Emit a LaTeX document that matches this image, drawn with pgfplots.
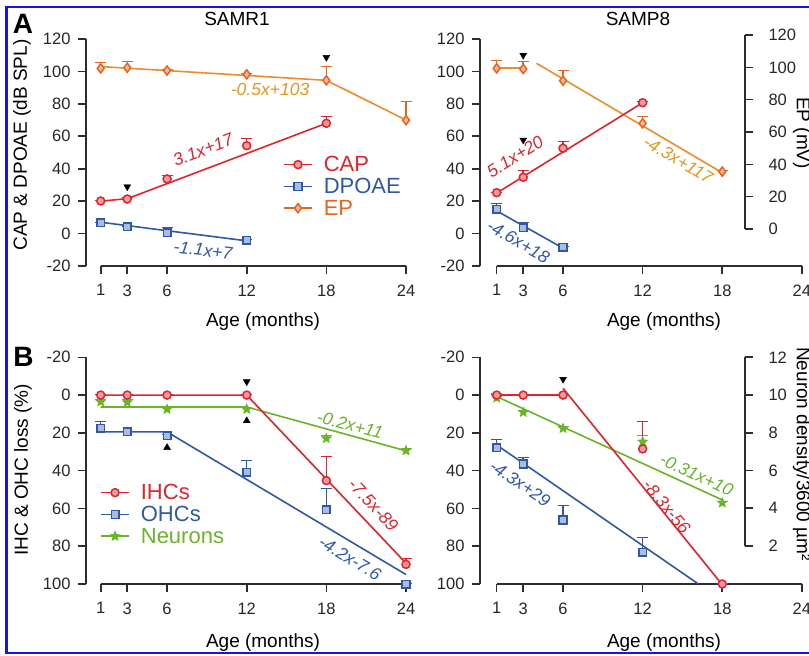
\documentclass[border=0pt]{standalone}
\usepackage{fontspec}
\setmainfont{Liberation Sans}
\usepackage{pgfplots}
\pgfplotsset{compat=1.18}
\definecolor{cred}{RGB}{224,36,44}
\definecolor{cblue}{RGB}{48,88,170}
\definecolor{corange}{RGB}{238,140,40}
\definecolor{cormark}{RGB}{232,100,30}
\definecolor{cfitor}{RGB}{232,150,30}
\definecolor{cgreen}{RGB}{105,180,40}
\definecolor{caxis}{RGB}{45,45,45}
\definecolor{cframe}{RGB}{20,20,230}
\newcommand\tickfont{\fontsize{16.5}{19}\selectfont}
\newcommand\labfont{\fontsize{19}{22}\selectfont}
\newcommand\legfont{\fontsize{22}{24}\selectfont}
\newcommand\fitfont{\fontsize{17.5}{20}\selectfont\itshape}
\pgfdeclareplotmark{fstar}{%
  \pgfpathmoveto{\pgfpointpolar{90}{\pgfplotmarksize}}%
  \pgfpathlineto{\pgfpointpolar{126}{0.45*\pgfplotmarksize}}%
  \pgfpathlineto{\pgfpointpolar{162}{\pgfplotmarksize}}%
  \pgfpathlineto{\pgfpointpolar{198}{0.45*\pgfplotmarksize}}%
  \pgfpathlineto{\pgfpointpolar{234}{\pgfplotmarksize}}%
  \pgfpathlineto{\pgfpointpolar{270}{0.45*\pgfplotmarksize}}%
  \pgfpathlineto{\pgfpointpolar{306}{\pgfplotmarksize}}%
  \pgfpathlineto{\pgfpointpolar{342}{0.45*\pgfplotmarksize}}%
  \pgfpathlineto{\pgfpointpolar{18}{\pgfplotmarksize}}%
  \pgfpathlineto{\pgfpointpolar{54}{0.45*\pgfplotmarksize}}%
  \pgfpathclose
  \pgfusepathqfillstroke}
\pgfplotsset{
  base/.style={scale only axis, clip=false,
    axis line style={caxis, line width=1.6pt},
    every tick/.style={caxis, line width=1.6pt},
    major tick length=8pt, tick align=outside,
    ticklabel style={font=\tickfont, text=black!85},
    xticklabel style={yshift=-7pt},
    xtick={1,3,6,12,18,24}, xticklabels={1,3,6,12,18,24},
    legend cell align=left,
    legend image code/.code={\draw[mark repeat=2,mark phase=2,##1] plot coordinates {(0pt,0pt) (14pt,0pt) (28pt,0pt)};},
    legend style={draw=none, fill=none, inner sep=0pt, row sep=3pt, font=\legfont,
      nodes={inner sep=1pt}, /tikz/every odd column/.append style={column sep=10pt}},
  },
  lefty/.style={yticklabel style={xshift=-4pt}},
  righty/.style={yticklabel style={xshift=12pt}},
  fitline/.style={line width=1.6pt, forget plot},
  errs/.style={only marks, forget plot, error bars/y dir=#1, error bars/y explicit, error bars/error mark=-},
  redm/.style={cred, mark=*, mark size=4pt, mark options={fill=cred!45!white, draw=cred, line width=1.5pt},
    error bars/error bar style={cred, line width=1.5pt, mark size=5.5pt}},
  bluem/.style={cblue, mark=square*, mark size=3.8pt, mark options={fill=cblue!40!white, draw=cblue, line width=1.5pt},
    error bars/error bar style={cblue, line width=1.5pt, mark size=5.5pt}},
  orm/.style={cormark, mark=diamond*, mark size=4.6pt, mark options={fill=cormark!45!white, draw=cormark, line width=1.5pt},
    error bars/error bar style={cormark, line width=1.5pt, mark size=5.5pt}},
  grm/.style={cgreen, mark=fstar, mark size=4.6pt, mark options={fill=cgreen, draw=cgreen, line width=1pt},
    error bars/error bar style={cgreen, line width=1.5pt, mark size=5.5pt}},
  tridown/.style={only marks, forget plot, black, mark=triangle*, mark size=4pt, mark options={rotate=180}},
  triup/.style={only marks, forget plot, black, mark=triangle*, mark size=4pt},
}
\begin{document}
\begin{tikzpicture}[x=1pt,y=1pt]
\useasboundingbox (0,0) rectangle (809,656);
% ---------------- A left: SAMR1
\begin{axis}[base, lefty, at={(86pt,390pt)}, anchor=south west, width=320pt, height=227pt,
  xmin=-0.108, xmax=24, ymin=-20, ymax=120,
  axis x line*=bottom, axis y line*=left, x axis line style={draw=none},
  ytick={-20,0,20,40,60,80,100,120}, yticklabels={-20,0,20,40,60,80,100,120},
  legend style={at={(0.6156,0.489)}, anchor=north west}]
\draw[caxis, line width=1.6pt] (axis cs:1,-20) -- (axis cs:24,-20);
\addplot[fitline, corange] coordinates {(1,103) (18,94.5) (24,70)};
\addplot[fitline, cred] coordinates {(1,20) (3,21.5) (18,68)};
\addplot[fitline, cblue] coordinates {(1,7) (12,-4.5)};
\addplot[errs=plus, orm] coordinates {(1,101.9) +- (0,3.7) (3,102.3) +- (0,4.1) (6,100.5) +- (0,0.8) (12,98.2) +- (0,0.8) (18,94.5) +- (0,9) (24,69.9) +- (0,12)};
\addplot[errs=plus, redm] coordinates {(1,20.1) +- (0,0.5) (3,21.3) +- (0,1) (6,33.7) +- (0,2) (12,54.2) +- (0,4.6) (18,68) +- (0,4.5)};
\addplot[errs=plus, bluem] coordinates {(1,6.7) +- (0,0.5) (3,4.1) +- (0,0.5) (6,0.4) +- (0,3.5) (12,-4) +- (0,0.5)};
\addplot[tridown] coordinates {(18,108.7) (3,28.9)};
\node[font=\fitfont, text=cfitor] at (axis cs:13.76,88.6) {-0.5x+103};
\node[font=\fitfont, text=cred, rotate=21] at (axis cs:8.71,51.6) {3.1x+17};
\node[font=\fitfont, text=cblue, rotate=-7] at (axis cs:8.71,-10.1) {-1.1x+7};
\node[font=\labfont] at (axis cs:11.27,132.3) {SAMR1};
\node[font=\labfont] at (axis cs:13.23,-54.5) {Age (months)};
\node[font=\labfont, rotate=90] at (axis cs:-4.93,54.6) {CAP \& DPOAE (dB SPL)};
\node[font=\fontsize{28}{30}\selectfont\bfseries] at (axis cs:-4.86,129.3) {A};
\addlegendimage{cred, line width=1.6pt, mark=*, mark size=4pt, mark options={fill=cred!45!white, draw=cred, line width=1.5pt}}
\addlegendentry{\textcolor{cred}{CAP}}
\addlegendimage{cblue, line width=1.6pt, mark=square*, mark size=3.8pt, mark options={fill=cblue!40!white, draw=cblue, line width=1.5pt}}
\addlegendentry{\textcolor{cblue}{DPOAE}}
\addlegendimage{cormark, line width=1.6pt, mark=diamond*, mark size=4.6pt, mark options={fill=cormark!45!white, draw=cormark, line width=1.5pt}}
\addlegendentry{\textcolor{cormark}{EP}}
\end{axis}
% ---------------- A right: SAMP8
\begin{axis}[base, lefty, at={(480pt,390pt)}, anchor=south west, width=321.9pt, height=227pt,
  xmin=-0.258, xmax=24, ymin=-20, ymax=120,
  axis x line*=bottom, axis y line*=left, x axis line style={draw=none},
  ytick={-20,0,20,40,60,80,100,120}, yticklabels={-20,0,20,40,60,80,100,120}]
\draw[caxis, line width=1.6pt] (axis cs:1,-20) -- (axis cs:24,-20);
\addplot[fitline, corange] coordinates {(1,102) (3,102)};
\addplot[fitline, corange] coordinates {(4,105) (18,37.5)};
\addplot[fitline, cred] coordinates {(1,25) (12,80.7)};
\addplot[fitline, cblue] coordinates {(1,14) (6,-9)};
\addplot[errs=plus, orm] coordinates {(1,101.9) +- (0,5) (3,101.5) +- (0,4.5) (6,94.3) +- (0,6.6) (12,68) +- (0,4.5) (18,38.2) +- (0,1)};
\addplot[errs=plus, redm] coordinates {(1,25.2) +- (0,0.5) (3,34.7) +- (0,4.5) (6,52.6) +- (0,4.1) (12,80.7) +- (0,1)};
\addplot[errs=plus, bluem] coordinates {(1,15) +- (0,3.7) (3,3.6) +- (0,3.7) (6,-8.5) +- (0,1)};
\addplot[tridown] coordinates {(3,110) (3,57.7)};
\node[font=\fitfont, text=cred, rotate=32] at (axis cs:2.39,47.4) {5.1x+20};
\node[font=\fitfont, text=cblue, rotate=-30] at (axis cs:2.63,-5.0) {-4.6x+18};
\node[font=\fitfont, text=cfitor, rotate=-31] at (axis cs:14.69,45.4) {-4.3x+117};
\node[font=\labfont] at (axis cs:11.65,132.3) {SAMP8};
\node[font=\labfont] at (axis cs:13.61,-54.5) {Age (months)};
\node[font=\labfont, rotate=-90, anchor=base] at (axis cs:23.63,62) {EP (mV)};
\end{axis}
\begin{axis}[base, righty, at={(480pt,427pt)}, anchor=south west, width=265pt, height=194pt,
  xmin=0, xmax=1, ymin=0, ymax=120, hide x axis, axis y line*=right,
  ytick={0,20,40,60,80,100,120}, yticklabels={0,20,40,60,80,100,120}]
\end{axis}
% ---------------- B left
\begin{axis}[base, lefty, at={(86pt,72pt)}, anchor=south west, width=320pt, height=226.7pt,
  xmin=-0.108, xmax=24, ymin=-20, ymax=100, y dir=reverse,
  axis x line*=bottom, axis y line*=left, x axis line style={draw=none},
  ytick={-20,0,20,40,60,80,100}, yticklabels={-20,0,20,40,60,80,100},
  legend style={at={(0.044,0.4455)}, anchor=north west}]
\draw[caxis, line width=1.6pt] (axis cs:1,100) -- (axis cs:24,100);
\addplot[fitline, cgreen] coordinates {(1,6.3) (12,6.3) (24,29.5)};
\addplot[fitline, cblue] coordinates {(1,19.5) (6,19.5) (24,95)};
\addplot[fitline, cred] coordinates {(1,0) (12,0) (24,89)};
\addplot[errs=minus, grm] coordinates {(1,3.5) +- (0,1.5) (3,3.8) +- (0,1.5) (6,7.5) +- (0,1) (12,7.5) +- (0,1) (18,22.9) +- (0,1.5) (24,29.4) +- (0,1.5)};
\addplot[errs=minus, bluem] coordinates {(1,17.6) +- (0,3.9) (3,19.4) +- (0,0.5) (6,21.5) +- (0,1) (12,40.9) +- (0,6.2) (18,60.8) +- (0,11.4) (24,100.2) +- (0,0.5)};
\addplot[errs=minus, redm] coordinates {(1,0) +- (0,0.3) (3,0) +- (0,0.3) (6,0) +- (0,0.3) (12,0) +- (0,0.3) (18,45.3) +- (0,12.7) (24,89.6) +- (0,3)};
\addplot[tridown] coordinates {(12,-7.1)};
\addplot[triup] coordinates {(12,13.6) (6,27.8)};
\node[font=\fitfont, text=cgreen, rotate=-15] at (axis cs:19.78,15.8) {-0.2x+11};
\node[font=\fitfont, text=cred, rotate=-47] at (axis cs:21.54,58.2) {-7.5x-89};
\node[font=\fitfont, text=cblue, rotate=-31] at (axis cs:19.78,86.4) {-4.2x-7.6};
\node[font=\labfont] at (axis cs:13.23,131) {Age (months)};
\node[font=\labfont, rotate=90] at (axis cs:-4.86,39.6) {IHC \& OHC loss (\%)};
\node[font=\fontsize{28}{30}\selectfont\bfseries] at (axis cs:-4.82,-20.2) {B};
\addlegendimage{cred, line width=1.6pt, mark=*, mark size=4pt, mark options={fill=cred!45!white, draw=cred, line width=1.5pt}}
\addlegendentry{\textcolor{cred}{IHCs}}
\addlegendimage{cblue, line width=1.6pt, mark=square*, mark size=3.8pt, mark options={fill=cblue!40!white, draw=cblue, line width=1.5pt}}
\addlegendentry{\textcolor{cblue}{OHCs}}
\addlegendimage{cgreen, line width=1.6pt, mark=fstar, mark size=4.6pt, mark options={fill=cgreen, draw=cgreen, line width=1pt}}
\addlegendentry{\textcolor{cgreen}{Neurons}}
\end{axis}
% ---------------- B right
\begin{axis}[base, lefty, at={(480pt,72pt)}, anchor=south west, width=321.9pt, height=226.7pt,
  xmin=-0.258, xmax=24, ymin=-20, ymax=100, y dir=reverse,
  axis x line*=bottom, axis y line*=left, x axis line style={draw=none},
  ytick={-20,0,20,40,60,80,100}, yticklabels={-20,0,20,40,60,80,100}]
\draw[caxis, line width=1.6pt] (axis cs:1,100) -- (axis cs:24,100);
\addplot[fitline, cgreen] coordinates {(1,0.8) (18,55.5)};
\addplot[fitline, cblue] coordinates {(1,26.4) (16.2,100)};
\addplot[fitline, cred] coordinates {(1,0) (6,0)};
\addplot[fitline, cred] coordinates {(6,-3.6) (18,100.4)};
\addplot[errs=minus, grm] coordinates {(1,1.5) +- (0,2.5) (3,9.1) +- (0,1) (6,17.6) +- (0,1) (12,24.7) +- (0,3.7) (18,57) +- (0,1)};
\addplot[errs=minus, bluem] coordinates {(1,27.8) +- (0,4.4) (3,36.5) +- (0,3.6) (6,66.1) +- (0,7.9) (12,83.2) +- (0,8.2)};
\addplot[errs=minus, redm] coordinates {(1,0) +- (0,0.3) (3,0) +- (0,0.3) (6,0) +- (0,0.3) (12,28.5) +- (0,14.8) (18,100) +- (0,0.3)};
\addplot[tridown] coordinates {(6,-8.4)};
\node[font=\fitfont, text=cred, rotate=-51] at (axis cs:13.81,59.1) {-8.3x-56};
\node[font=\fitfont, text=cblue, rotate=-34] at (axis cs:2.76,46.7) {-4.3x+29};
\node[font=\fitfont, text=cgreen, rotate=-25] at (axis cs:16.07,42.3) {-0.31x+10};
\node[font=\labfont] at (axis cs:13.61,131) {Age (months)};
\node[font=\labfont, rotate=-90, anchor=base] at (axis cs:23.63,31.2) {Neuron density/3600 µm²};
\end{axis}
\begin{axis}[base, righty, at={(480pt,110pt)}, anchor=south west, width=265pt, height=188.7pt,
  xmin=0, xmax=1, ymin=2, ymax=12, hide x axis, axis y line*=right,
  ytick={2,4,6,8,10,12}, yticklabels={2,4,6,8,10,12}]
\end{axis}
\draw[cframe, line width=2.5pt] (6.5,3) rectangle (830,649);
\end{tikzpicture}
\end{document}
